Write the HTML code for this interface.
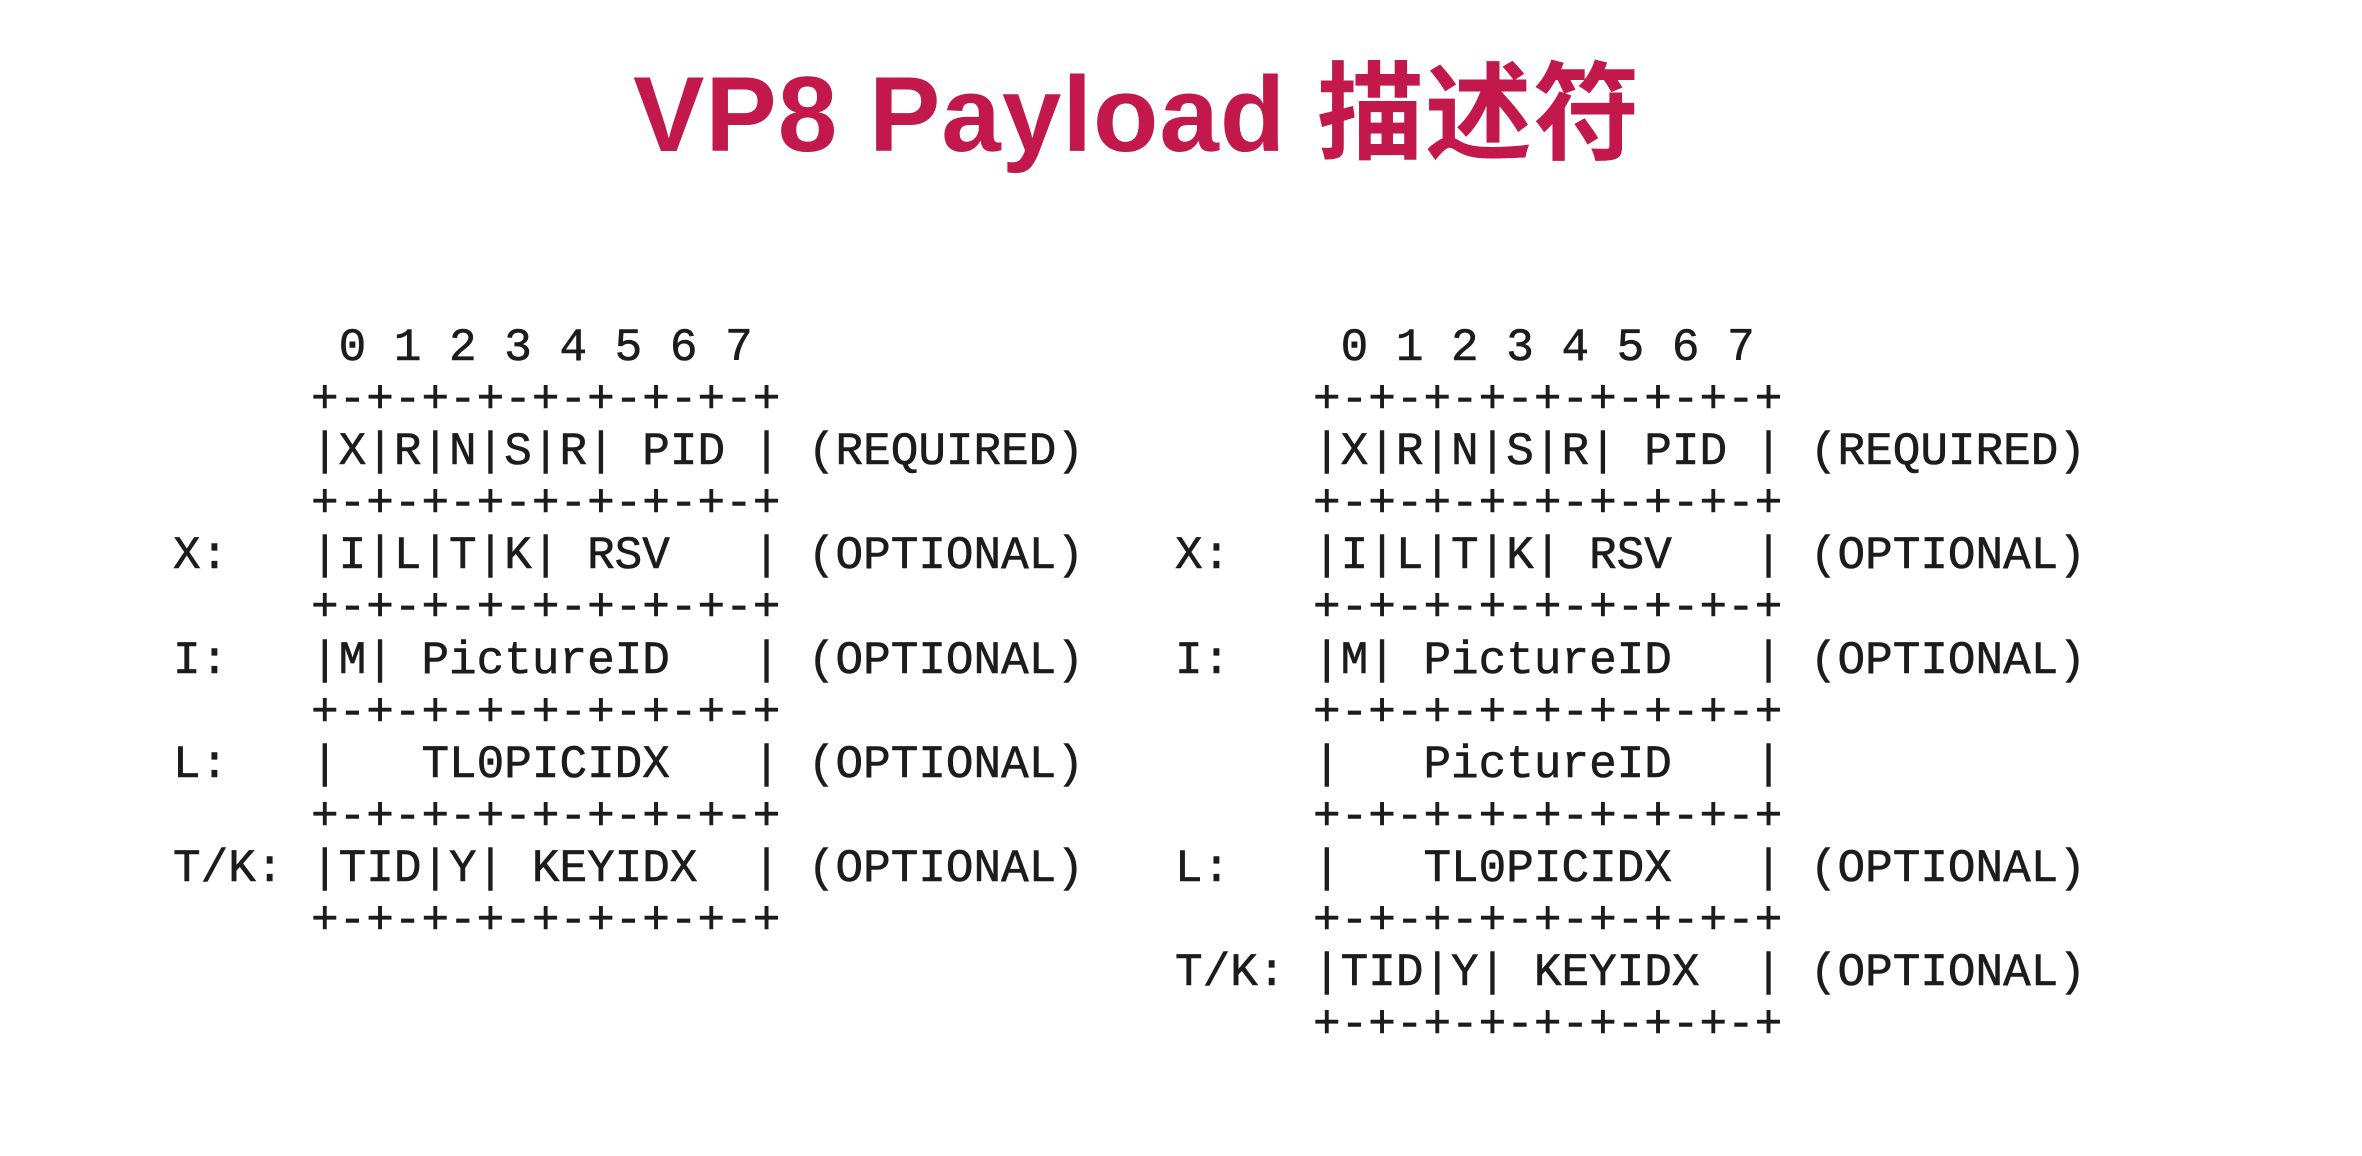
<!DOCTYPE html>
<html><head><meta charset="utf-8">
<style>
html,body{margin:0;padding:0;background:#fff;}
body{width:2362px;height:1156px;position:relative;overflow:hidden;}
.title{position:absolute;left:0;width:2274px;text-align:center;top:44px;font-family:"Liberation Sans","Noto Sans CJK SC",sans-serif;font-weight:bold;font-size:107px;line-height:140px;color:#c2184b;letter-spacing:1px;}
pre{position:absolute;margin:0;font-family:"Liberation Mono",monospace;font-size:46px;line-height:52.1px;color:#1c1c1c;-webkit-text-stroke:0.6px #1c1c1c;}
</style></head><body>
<div class="title">VP8 Payload 描述符</div>
<pre style="left:173px;top:322px;">      0 1 2 3 4 5 6 7
     +-+-+-+-+-+-+-+-+
     |X|R|N|S|R| PID | (REQUIRED)
     +-+-+-+-+-+-+-+-+
X:   |I|L|T|K| RSV   | (OPTIONAL)
     +-+-+-+-+-+-+-+-+
I:   |M| PictureID   | (OPTIONAL)
     +-+-+-+-+-+-+-+-+
L:   |   TL0PICIDX   | (OPTIONAL)
     +-+-+-+-+-+-+-+-+
T/K: |TID|Y| KEYIDX  | (OPTIONAL)
     +-+-+-+-+-+-+-+-+</pre>
<pre style="left:1175px;top:322px;">      0 1 2 3 4 5 6 7
     +-+-+-+-+-+-+-+-+
     |X|R|N|S|R| PID | (REQUIRED)
     +-+-+-+-+-+-+-+-+
X:   |I|L|T|K| RSV   | (OPTIONAL)
     +-+-+-+-+-+-+-+-+
I:   |M| PictureID   | (OPTIONAL)
     +-+-+-+-+-+-+-+-+
     |   PictureID   |
     +-+-+-+-+-+-+-+-+
L:   |   TL0PICIDX   | (OPTIONAL)
     +-+-+-+-+-+-+-+-+
T/K: |TID|Y| KEYIDX  | (OPTIONAL)
     +-+-+-+-+-+-+-+-+</pre>
</body></html>
